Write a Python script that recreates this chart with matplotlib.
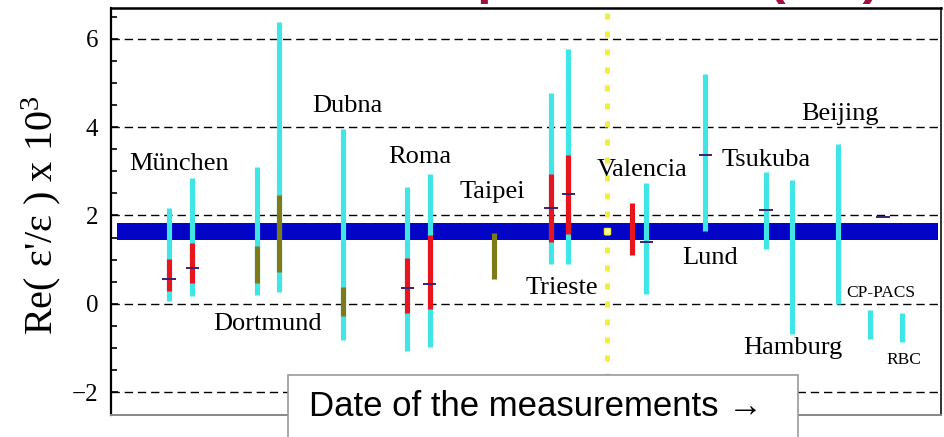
import numpy as np
import matplotlib.pyplot as plt
from matplotlib.patches import Rectangle

plt.rcParams['font.family'] = ['Liberation Serif', 'DejaVu Serif']
plt.rcParams['mathtext.fontset'] = 'custom'
plt.rcParams['mathtext.rm'] = 'Liberation Serif'
plt.rcParams['mathtext.it'] = 'Liberation Serif:italic'

nan = np.nan

# position of each result along the (time-ordered) x axis
pos = [7.0, 9.8, 17.6, 20.3, 28.0, 35.7, 38.4, 46.1, 53.0, 55.1,
       62.8, 64.5, 71.6, 78.9, 82.0, 87.6, 91.5, 93.0, 95.3]
# full range (cyan)
wide_lo = [0.07, 0.17, 0.20, 0.27, -0.82, -1.07, -0.97, nan, 0.91, 0.91,
           nan, 0.22, 1.64, 1.24, -0.68, 0.00, -0.79, nan, -0.87]
wide_hi = [2.17, 2.85, 3.10, 6.38, 3.96, 2.64, 2.94, nan, 4.77, 5.78,
           nan, 2.74, 5.20, 2.98, 2.80, 3.63, -0.14, nan, -0.21]
# inner range (red / olive)
core_lo = [0.29, 0.46, 0.46, 0.71, -0.27, -0.22, -0.12, 0.55, 1.40, 1.59,
           1.11, nan, nan, nan, nan, nan, nan, nan, nan]
core_hi = [1.02, 1.37, 1.31, 2.46, 0.38, 1.03, 1.56, 1.60, 2.94, 3.36,
           2.29, nan, nan, nan, nan, nan, nan, nan, nan]
core_kind = ['r', 'r', 'o', 'o', 'o', 'r', 'r', 'o', 'r', 'r',
             'r', '', '', '', '', '', '', '', '']
# central values
central = [0.56, 0.82, nan, nan, nan, 0.36, 0.44, nan, 2.16, 2.48,
           nan, 1.41, 3.38, 2.12, nan, nan, nan, 1.97, nan]

# experimental average band
band_lo, band_hi = 1.44, 1.83
date_line = 59.7
date_mark = 1.64

labels = ['München', 'Dortmund', 'Dubna', 'Roma', 'Taipei', 'Trieste',
          'Valencia', 'Lund', 'Tsukuba', 'Beijing', 'Hamburg', 'CP-PACS', 'RBC']
label_x = [2.2, 12.3, 24.2, 33.4, 42.0, 49.9, 58.5, 68.8, 73.6, 83.1,
           76.2, 88.6, 93.4]
label_y = [3.04, -0.59, 4.35, 3.18, 2.40, 0.21, 2.89, 0.91, 3.11, 4.16,
           -1.13, 0.16, -1.36]
label_size = [19, 19, 19, 19, 19, 19, 19, 19, 19, 19, 19, 12.5, 12.5]

cyan = '#40E6E6'
colors = {'r': '#E8141E', 'o': '#7D7A1A'}

fig = plt.figure(figsize=(9.44, 4.37), dpi=100)
ax = fig.add_axes([111 / 944, 22 / 437, 830 / 944, 407 / 437])
ax.set_xlim(0, 100)
ax.set_ylim(-2.52, 6.70)

for v in [-2, 0, 2, 4, 6]:
    ax.axhline(v, color='black', lw=1.0, dashes=(6, 3.5), zorder=1)

ax.fill_between([0.7, 99.6], band_lo, band_hi, color='#0404C6', lw=0, zorder=2)

bw = 3.7
ax.vlines(pos, wide_lo, wide_hi, color=cyan, lw=bw, capstyle='butt', zorder=3)
for x, lo, hi, k in zip(pos, core_lo, core_hi, core_kind):
    if k:
        ax.vlines(x, lo, hi, color=colors[k], lw=bw, capstyle='butt', zorder=4)
ax.hlines(central, np.array(pos) - 0.8, np.array(pos) + 0.8,
          color='#3C2070', lw=1.4, zorder=5)

ax.axvline(date_line, color='#F0F03A', lw=3.6, linestyle=(0, (1.2, 2.4)), zorder=6)
ax.plot([date_line], [date_mark], marker='s', ms=4, mfc='#FFFFD8',
        mec='#F0F03A', mew=1, zorder=7)

for t, x, y, s in zip(labels, label_x, label_y, label_size):
    ax.text(x, y, t, fontsize=s, ha='left', va='baseline', zorder=8)

ax.set_yticks([-2, 0, 2, 4, 6])
ax.set_yticks(np.arange(-2, 6.6, 0.5), minor=True)
ax.set_xticks([])
ax.tick_params(axis='y', which='both', direction='in', labelsize=18, pad=9,
               width=1.2, right=False)
ax.tick_params(axis='y', which='major', length=5)
ax.tick_params(axis='y', which='minor', length=4)
ax.spines['left'].set_linewidth(1.6)
ax.spines['top'].set_linewidth(1.8)
ax.spines['right'].set_linewidth(1.4)
ax.spines['right'].set_color('#333333')
ax.spines['bottom'].set_color('#888888')
ax.spines['bottom'].set_linewidth(1.4)

ax.set_ylabel("Re( ε'/ε ) x 10$^{3}$", fontsize=29)
ax.yaxis.set_label_coords(-0.058, 0.49)

# x-axis caption box
fig.patches.append(Rectangle((288 / 944, -0.02), 510 / 944, (437 - 375) / 437 + 0.02,
                             transform=fig.transFigure, facecolor='white',
                             edgecolor='#999999', lw=1.2, zorder=10))
fig.text(309 / 944, 30 / 437, 'Date of the measurements →', fontsize=25,
         family=['Liberation Sans', 'DejaVu Sans'], ha='left', va='center',
         zorder=11)

# slide title, mostly above the visible area
fig.text(880 / 944, 1.017, 'Theoretical predictions (SM)', fontsize=37,
         fontweight='bold', color='#A0103C',
         family=['Liberation Sans', 'DejaVu Sans'], ha='right', va='baseline')

fig.savefig('out.png', dpi=100)
